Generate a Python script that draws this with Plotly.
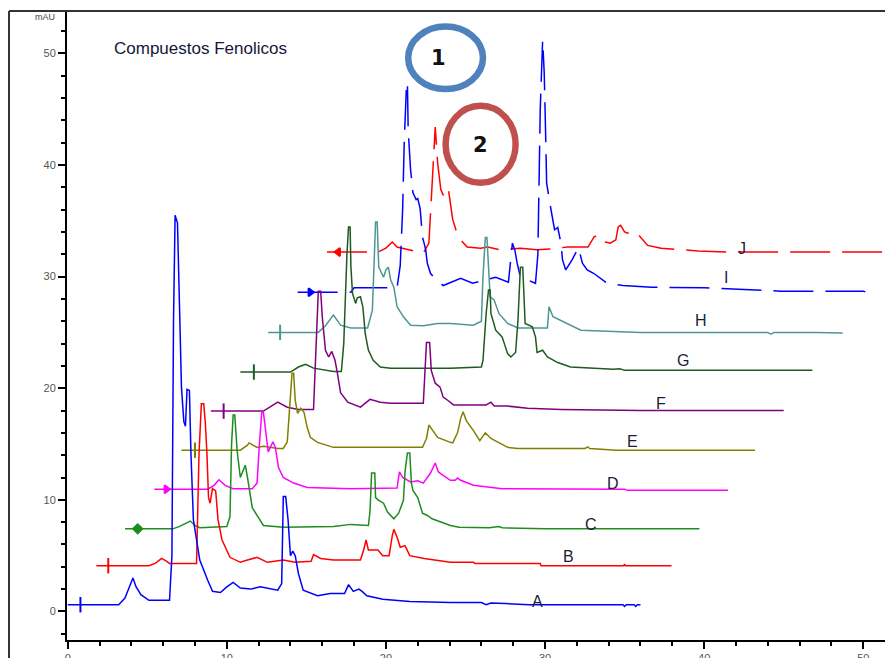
import plotly.graph_objects as go

# ---------------- data (retention time [min], absorbance [mAU]) ----------------
A_time = [0.0, 3.2, 3.6, 3.9, 4.1, 4.3, 4.6, 5.1, 6.4, 6.55, 6.65, 6.75, 6.9, 7.05, 7.15, 7.3, 7.4, 7.5, 7.65, 7.75,
          7.9, 8.1, 8.3, 8.8, 9.1, 9.6, 10.0, 10.4, 10.85, 11.5, 12.1, 13.2, 13.45, 13.55, 13.7, 13.85, 14.0, 14.15,
          14.3, 14.5, 14.8, 15.7, 16.5, 17.4, 17.65, 17.95, 18.3, 18.5, 18.8, 19.8, 21.5, 24.05, 26.0, 26.3, 26.6,
          27.5, 29.0, 33.0, 34.9, 35.0, 35.1, 35.6, 35.7, 35.8, 36.0]
A_mau = [0.6, 0.6, 1.2, 2.3, 3.0, 2.2, 1.5, 1.0, 1.0, 5.0, 26.0, 35.5, 34.8, 26.0, 20.1, 17.0, 16.6, 19.9, 19.8, 14.0,
         8.2, 6.4, 4.6, 2.8, 1.8, 1.7, 2.2, 2.6, 2.1, 2.0, 2.2, 1.9, 2.5, 10.3, 10.3, 8.2, 5.0, 5.4,
         5.0, 3.4, 1.9, 1.4, 1.6, 1.6, 2.4, 1.8, 2.0, 1.8, 1.4, 1.1, 0.9, 0.8, 0.8, 0.6, 0.75,
         0.7, 0.6, 0.6, 0.6, 0.45, 0.6, 0.6, 0.45, 0.6, 0.6]

B_time = [1.8, 5.1, 5.5, 5.9, 6.2, 6.4, 8.1, 8.25, 8.4, 8.55, 8.65, 8.75, 8.85, 8.95, 9.1, 9.3, 9.45, 9.7, 10.2,
          10.85, 11.3, 11.9, 12.55, 13.55, 14.3, 15.3, 15.45, 15.9, 16.7, 18.4, 18.6, 18.75, 18.9, 19.5, 19.8, 20.2,
          20.4, 20.5, 20.7, 20.9, 21.2, 21.5, 22.4, 24.05, 25.5, 25.6, 29.7, 29.75, 34.95, 35.0, 35.05, 37.95]
B_mau = [4.1, 4.1, 4.3, 4.75, 4.5, 4.3, 4.3, 14.0, 18.6, 18.6, 16.9, 14.2, 10.2, 9.7, 11.0, 10.8, 8.2, 6.4, 4.85,
         4.4, 4.6, 4.85, 4.4, 4.6, 4.4, 4.5, 5.1, 4.75, 4.6, 4.6, 5.5, 6.4, 5.5, 5.5, 5.0, 5.0,
         6.8, 7.35, 6.65, 5.75, 5.9, 5.0, 4.75, 4.4, 4.4, 4.3, 4.3, 4.1, 4.1, 4.25, 4.1, 4.1]

C_time = [3.6, 6.6, 7.0, 7.4, 7.7, 8.0, 8.3, 10.0, 10.2, 10.3, 10.4, 10.5, 10.65, 10.85, 11.05, 11.16, 11.3, 11.6,
          11.9, 12.3, 13.55, 16.7, 17.8, 18.9, 19.0, 19.1, 19.3, 19.35, 19.55, 19.85, 20.1, 20.5, 20.8, 21.1, 21.2,
          21.35, 21.5, 21.6, 21.7, 22.0, 22.3, 22.6, 22.9, 23.5, 24.05, 24.6, 26.5, 27.1, 27.3, 30.0, 39.7]
C_mau = [7.4, 7.4, 7.6, 7.9, 8.1, 7.7, 7.5, 7.6, 8.5, 15.0, 17.6, 17.6, 14.4, 12.0, 12.8, 13.1, 12.0, 9.3,
         8.6, 7.7, 7.55, 7.6, 7.8, 7.7, 9.0, 12.4, 12.4, 10.2, 9.95, 9.7, 8.9, 8.3, 8.8, 9.95, 12.5,
         14.2, 14.2, 11.5, 10.85, 10.2, 8.8, 8.6, 8.3, 8.0, 7.7, 7.55, 7.5, 7.6, 7.5, 7.4, 7.4]

D_time = [5.45, 8.8, 9.2, 9.5, 9.9, 10.4, 11.6, 11.9, 12.05, 12.2, 12.3, 12.4, 12.6, 12.9, 13.05, 13.25, 13.55, 14.2,
          15.05, 17.8, 20.7, 20.85, 21.05, 21.55, 22.0, 22.35, 22.8, 23.1, 23.3, 23.6, 24.05, 24.35, 24.5, 24.7,
          25.5, 27.3, 35.0, 35.2, 41.5]
D_mau = [10.95, 10.95, 11.3, 11.8, 11.3, 11.0, 11.0, 11.5, 15.0, 17.85, 17.85, 16.5, 14.3, 15.2, 14.7, 12.9, 12.0, 11.5,
         11.1, 11.0, 11.05, 12.5, 12.0, 11.6, 11.7, 11.5, 12.4, 13.3, 12.5, 12.2, 11.75, 11.75, 11.95, 11.75,
         11.3, 11.0, 10.95, 10.85, 10.85]

E_time = [7.15, 10.85, 11.3, 11.4, 11.9, 12.3, 13.2, 13.55, 13.8, 14.0, 14.1, 14.2, 14.3, 14.45, 14.65, 14.85, 15.05,
          15.25, 15.7, 16.7, 22.3, 22.55, 22.7, 22.95, 23.25, 24.05, 24.2, 24.5, 24.7, 24.85, 25.05, 25.5, 25.9,
          26.25, 26.6, 27.65, 28.3, 32.5, 32.7, 32.8, 34.5, 43.2]
E_mau = [14.45, 14.45, 14.9, 15.1, 14.7, 14.8, 14.6, 14.6, 15.2, 19.5, 21.35, 21.35, 18.9, 17.75, 18.2, 17.85, 16.5,
         15.6, 15.15, 14.7, 14.7, 15.5, 16.7, 16.2, 15.6, 15.15, 15.1, 16.0, 17.3, 17.9, 17.1, 16.2, 15.3,
         16.0, 15.5, 14.7, 14.6, 14.6, 14.75, 14.6, 14.45, 14.45]

F_time = [9.0, 12.3, 12.8, 13.2, 13.8, 14.5, 15.45, 15.55, 15.75, 15.9, 16.0, 16.2, 16.4, 16.6, 16.8, 16.95, 17.15,
          17.6, 18.4, 19.0, 19.65, 20.3, 22.35, 22.55, 22.75, 22.85, 23.1, 23.4, 23.6, 23.9, 24.25, 26.3, 26.6,
          26.8, 27.65, 28.9, 31.0, 36.0, 45.0]
F_mau = [17.95, 17.95, 18.4, 18.75, 18.3, 18.1, 18.1, 22.0, 28.7, 28.7, 26.4, 23.4, 22.8, 23.3, 22.5, 21.35, 19.6,
         18.75, 18.3, 19.0, 18.75, 18.65, 18.65, 24.1, 24.1, 21.6, 20.45, 20.1, 19.2, 18.9, 18.5, 18.5, 18.75,
         18.4, 18.4, 18.2, 18.1, 18.0, 18.0]

G_time = [10.85, 14.0, 14.5, 14.95, 15.45, 16.7, 17.2, 17.35, 17.55, 17.65, 17.75, 17.8, 17.9, 18.1, 18.2, 18.4,
          18.55, 18.7, 18.9, 19.2, 19.65, 20.3, 24.05, 26.0, 26.1, 26.3, 26.45, 26.55, 26.6, 26.9, 27.3, 27.65,
          27.85, 28.15, 28.3, 28.45, 28.6, 28.75, 29.2, 29.4, 29.5, 29.85, 30.15, 30.8, 31.6, 34.3, 34.7, 35.0, 46.8]
G_mau = [21.45, 21.45, 21.9, 22.15, 21.8, 21.5, 21.5, 24.0, 32.0, 34.45, 34.45, 30.85, 28.5, 27.6, 28.1, 28.2,
         27.3, 24.9, 23.4, 22.5, 21.9, 21.8, 21.8, 21.9, 22.5, 26.7, 28.8, 28.8, 26.7, 25.2, 24.6, 23.1,
         22.8, 23.2, 26.1, 30.85, 30.85, 25.8, 25.5, 24.6, 23.2, 23.4, 22.8, 22.3, 21.9, 21.7, 21.75, 21.6, 21.6]

H_time = [12.6, 15.75, 16.2, 16.7, 17.15, 17.8, 18.85, 19.15, 19.35, 19.45, 19.55, 19.85, 20.0, 20.15, 20.3, 20.5,
          20.7, 21.1, 21.55, 22.35, 23.25, 24.05, 25.5, 26.0, 26.1, 26.25, 26.35, 26.55, 26.8, 27.1, 27.65, 28.3,
          30.15, 30.25, 30.5, 31.4, 32.25, 36.0, 44.0, 44.2, 44.4, 47.0, 48.7]
H_mau = [25.0, 25.0, 25.6, 26.55, 25.65, 25.4, 25.4, 27.0, 34.9, 34.9, 30.85, 29.95, 30.6, 30.85, 29.7, 29.05,
         27.3, 26.4, 25.65, 25.6, 25.8, 25.8, 25.65, 26.0, 30.0, 33.5, 33.5, 28.2, 27.9, 26.7, 25.8, 25.4,
         25.4, 27.3, 26.4, 25.8, 25.2, 25.0, 25.0, 24.85, 25.0, 25.0, 24.95]

I_time = [14.45, 17.8, 18.0, 20.7, 20.9, 21.05, 21.15, 21.3, 21.35, 21.4, 21.55, 21.7, 21.9, 22.0, 22.15, 22.3,
          22.4, 22.5, 22.6, 22.8, 23.0, 23.6, 24.7, 25.45, 26.9, 27.7, 27.95, 28.1, 28.25, 28.45, 28.9, 29.4,
          29.55, 29.7, 29.85, 29.95, 30.05, 30.1, 30.3, 30.5, 30.6, 30.8, 31.0, 31.1, 31.3, 31.7, 32.1, 32.35,
          32.65, 33.05, 33.4, 33.9, 34.9, 36.7, 40.0, 42.7, 44.8, 50.0, 50.5]
I_mau = [28.6, 28.6, 29.0, 29.0, 31.0, 36.0, 42.0, 47.4, 47.4, 43.1, 39.6, 37.5, 36.9, 37.0, 36.1, 33.5,
         33.0, 32.4, 31.2, 30.3, 29.95, 29.2, 29.85, 29.4, 29.95, 29.5, 33.0, 32.4, 31.2, 29.95, 29.7, 29.4,
         32.0, 45.0, 51.2, 48.25, 42.0, 38.4, 36.6, 34.8, 34.2, 34.4, 33.0, 31.5, 30.6, 31.5, 32.6, 31.2,
         30.6, 30.3, 29.95, 29.4, 29.2, 29.05, 29.0, 28.8, 28.7, 28.7, 28.5]

J_time = [16.3, 19.5, 20.0, 20.4, 20.7, 22.0, 22.35, 22.7, 22.9, 23.1, 23.25, 23.35, 23.45, 23.6, 23.85, 23.95,
          24.05, 24.2, 24.4, 24.7, 25.1, 25.95, 26.4, 27.2, 28.45, 29.5, 30.5, 31.4, 32.7, 33.1, 33.6, 33.8,
          34.1, 34.45, 34.6, 34.75, 35.0, 35.2, 35.4, 35.6, 35.9, 36.45, 37.3, 38.5, 39.6, 41.5, 52.0]
J_mau = [32.2, 32.2, 32.55, 33.1, 32.65, 32.2, 32.1, 33.0, 38.0, 43.4, 40.2, 38.9, 37.8, 37.3, 38.0, 37.6,
         36.6, 35.1, 34.2, 33.3, 32.65, 32.55, 32.65, 32.4, 32.55, 32.4, 32.5, 32.65, 32.65, 33.6, 33.6, 33.1,
         33.0, 33.3, 34.45, 34.6, 34.0, 33.9, 34.0, 33.7, 33.7, 32.8, 32.55, 32.4, 32.3, 32.2, 32.2]

sample_names = ["A", "B", "C", "D", "E", "F", "G", "H", "I", "J"]
injection_time = [0.8, 2.55, 4.4, 6.2, 8.0, 9.8, 11.7, 13.35, 15.25, 17.0]

x_ticks = [0, 10, 20, 30, 40, 50]
y_ticks = [0, 10, 20, 30, 40, 50]

series_time = [A_time, B_time, C_time, D_time, E_time, F_time, G_time, H_time, I_time, J_time]
series_mau = [A_mau, B_mau, C_mau, D_mau, E_mau, F_mau, G_mau, H_mau, I_mau, J_mau]

# ---------------- styles ----------------
colors = ["#0000ff", "#ff0000", "#1e8c1e", "#ff00ff", "#808000", "#800080", "#1f5a1f", "#4f9595", "#0000ff", "#ff0000"]
dashes = ["solid"] * 8 + ["40px,12px", "40px,12px"]
mark_symbols = ["line-ns", "line-ns", "diamond", "triangle-right", "line-ns", "line-ns", "line-ns", "line-ns",
                "triangle-right", "triangle-left"]
label_pos = {"A": (29.5, 0.9), "B": (31.5, 4.9), "C": (32.9, 7.8), "D": (34.3, 11.5), "E": (35.5, 15.2),
             "F": (37.3, 18.6), "G": (38.7, 22.5), "H": (39.8, 26.1), "I": (41.4, 29.9), "J": (42.35, 32.5)}

fig = go.Figure()
for i in reversed(range(len(sample_names))):
    fig.add_trace(go.Scatter(x=series_time[i], y=series_mau[i], mode="lines",
                             line=dict(color=colors[i], width=1.5, dash=dashes[i]),
                             name=sample_names[i], showlegend=False, hoverinfo="skip"))
    sym = mark_symbols[i]
    open_line = sym.startswith("line")
    fig.add_trace(go.Scatter(x=[injection_time[i]], y=[series_mau[i][0]], mode="markers",
                             marker=dict(symbol=sym, size=11 if open_line else 7, color=colors[i],
                                         line=dict(color=colors[i], width=2)),
                             showlegend=False, hoverinfo="skip"))

annotations = []
for n in sample_names:
    lx, ly = label_pos[n]
    annotations.append(dict(x=lx, y=ly, xref="x", yref="y", text=n, showarrow=False,
                            font=dict(family="Liberation Sans, Arial", size=16, color="#1c1c38"),
                            xanchor="center", yanchor="middle"))

annotations += [
    dict(x=0.0545, y=0.941, xref="paper", yref="paper", text="Compuestos Fenolicos", showarrow=False,
         xanchor="left", yanchor="middle", font=dict(family="Liberation Sans, Arial", size=17, color="#16163a")),
    dict(x=-0.012, y=0.99, xref="paper", yref="paper", text="mAU", showarrow=False,
         xanchor="right", yanchor="middle", font=dict(family="Liberation Sans, Arial", size=9, color="#444")),
    dict(x=0.99, y=-0.026, xref="paper", yref="paper", text="min", showarrow=False,
         xanchor="left", yanchor="middle", font=dict(family="Liberation Sans, Arial", size=11, color="#555")),
    dict(x=23.3, y=49.6, xref="x", yref="y", text="<b>1</b>", showarrow=False,
         font=dict(family="DejaVu Sans", size=21, color="#111")),
    dict(x=25.95, y=41.8, xref="x", yref="y", text="<b>2</b>", showarrow=False,
         font=dict(family="DejaVu Sans", size=21, color="#111")),
]

shapes = [
    dict(type="circle", xref="x", yref="y", x0=21.4, x1=26.1, y0=46.8, y1=52.4,
         line=dict(color="#4f81bd", width=6.5)),
    dict(type="circle", xref="x", yref="y", x0=23.75, x1=28.15, y0=38.4, y1=45.3,
         line=dict(color="#c0504d", width=6.5)),
    dict(type="line", xref="paper", yref="paper", x0=-0.0702, x1=-0.0702, y0=-0.1, y1=1.0,
         line=dict(color="#333", width=2)),
    dict(type="line", xref="paper", yref="paper", x0=-0.0702, x1=1.0, y0=1.0, y1=1.0,
         line=dict(color="#333", width=2)),
]

axis_common = dict(showline=True, linecolor="black", linewidth=2, ticks="outside", ticklen=7, tickwidth=1.5,
                   tickcolor="black", showgrid=False, zeroline=False,
                   tickfont=dict(family="Liberation Sans, Arial", size=11, color="#555"),
                   minor=dict(dtick=2, ticklen=4, tickwidth=1.5, tickcolor="black", ticks="outside", showgrid=False))

# the page body adds an 8px offset, so the figure is 8px smaller and the margins are reduced by 8px
fig.update_layout(
    width=885, height=650,
    margin=dict(l=59, r=0, t=3, b=18, autoexpand=False),
    paper_bgcolor="white", plot_bgcolor="white",
    xaxis=dict(range=[-0.044, 51.87], tickvals=x_ticks, **axis_common),
    yaxis=dict(range=[-2.56, 53.8], tickvals=y_ticks, **axis_common),
    annotations=annotations, shapes=shapes, showlegend=False,
)

fig.write_html("out.html")
